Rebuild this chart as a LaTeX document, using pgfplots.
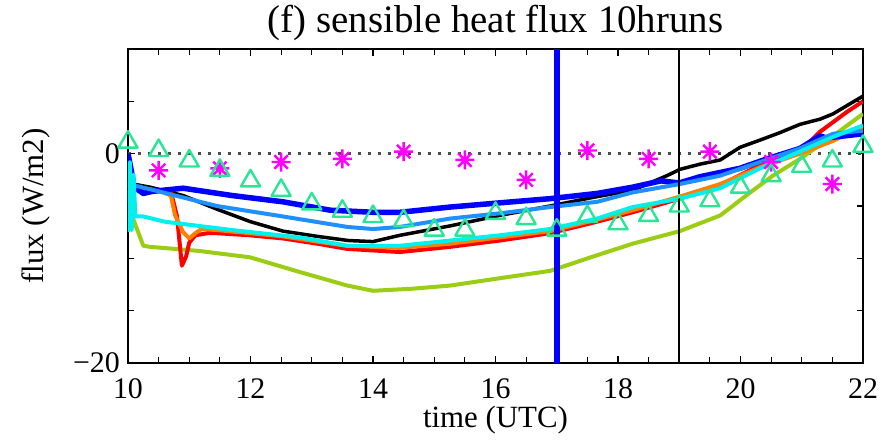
\documentclass[border=0pt]{standalone}
\usepackage{fontspec}
\setmainfont{Liberation Serif}
\usepackage{pgfplots}
\pgfplotsset{compat=1.18}

\definecolor{dblue}{RGB}{0,0,255}
\definecolor{mblue}{RGB}{30,144,255}
\definecolor{lorange}{RGB}{255,127,0}
\definecolor{lcyan}{RGB}{0,240,240}
\definecolor{ygreen}{RGB}{154,205,20}
\definecolor{tgreen}{RGB}{40,230,150}
\definecolor{pmag}{RGB}{255,0,255}

% eight-spoke asterisk
\pgfdeclareplotmark{ast8}{%
  \pgfpathmoveto{\pgfqpoint{-\pgfplotmarksize}{0pt}}\pgfpathlineto{\pgfqpoint{\pgfplotmarksize}{0pt}}%
  \pgfpathmoveto{\pgfqpoint{0pt}{-\pgfplotmarksize}}\pgfpathlineto{\pgfqpoint{0pt}{\pgfplotmarksize}}%
  \pgfpathmoveto{\pgfqpoint{-0.707\pgfplotmarksize}{-0.707\pgfplotmarksize}}\pgfpathlineto{\pgfqpoint{0.707\pgfplotmarksize}{0.707\pgfplotmarksize}}%
  \pgfpathmoveto{\pgfqpoint{-0.707\pgfplotmarksize}{0.707\pgfplotmarksize}}\pgfpathlineto{\pgfqpoint{0.707\pgfplotmarksize}{-0.707\pgfplotmarksize}}%
  \pgfusepathqstroke}

\begin{document}
\begin{tikzpicture}
\useasboundingbox (-128bp,-80bp) rectangle (768bp,363bp);
\begin{axis}[
    at={(0,0)}, anchor=south west,
    scale only axis, width=735bp, height=314bp,
    xmin=10, xmax=22, ymin=-20, ymax=10,
    xtick={10,12,...,22}, minor x tick num=3,
    xticklabels={\textrm{10},\textrm{12},\textrm{14},\textrm{16},\textrm{18},\textrm{20},\textrm{22}},
    ytick={-20,0}, yticklabels={\textrm{−20},\textrm{0}},
    minor ytick={-15,-10,-5,5},
    tick align=inside,
    major tick length=7bp, minor tick length=6bp,
    tick style={line width=1.2bp, black},
    axis line style={line width=1.8bp},
    tick label style={font=\rmfamily\fontsize{30}{32}\selectfont},
    xticklabel style={anchor=base, inner sep=0pt, yshift=-35bp},
    yticklabel style={anchor=east, inner sep=0pt, xshift=-8bp},
    title={(f) sensible heat flux 10hruns},
    title style={font=\fontsize{39}{44}\selectfont, at={(axis description cs:0.5,1.035)}, anchor=base},
    xlabel={time (UTC)},
    xlabel style={font=\fontsize{31}{34}\selectfont, at={(axis description cs:0.5,-0.205)}, anchor=base},
    ylabel={flux (W/m2)},
    ylabel style={font=\fontsize{31}{34}\selectfont, at={(axis description cs:-0.1143,0.5)}, anchor=base},
    every axis plot/.append style={line join=round},
]
% zero line
\addplot [black!70, line width=2.5bp, dash pattern=on 3bp off 7bp] coordinates {(10,0) (22,0)};

% black
\addplot [black, line width=3.5bp] coordinates {
(10.0,-2.3) (10.08,-2.9) (10.36,-3.2) (10.9,-4.0) (11.45,-5.3) (12.0,-6.5) (12.53,-7.4)
(13.09,-7.9) (13.6,-8.3) (14.0,-8.4) (14.44,-7.8) (15.26,-6.9) (16.07,-5.9) (16.89,-5.0)
(17.66,-4.1) (18.24,-3.5) (18.8,-2.1) (19.01,-1.5) (19.34,-1.0) (19.67,-0.6) (19.99,0.6)
(20.32,1.3) (20.64,2.0) (20.97,2.8) (21.3,3.3) (21.51,3.8) (21.74,4.6) (22.0,5.5)};

% green
\addplot [ygreen, line width=4bp] coordinates {
(10.0,-3.5) (10.07,-6.0) (10.25,-8.8) (10.36,-8.9) (11.17,-9.3) (11.99,-9.9) (12.8,-11.3)
(13.58,-12.6) (14.0,-13.1) (14.65,-12.9) (15.26,-12.6) (16.07,-11.9) (16.89,-11.2)
(17.66,-9.7) (18.24,-8.6) (19.01,-7.4) (19.67,-5.9) (20.16,-3.7) (20.53,-2.1)
(20.97,-0.5) (21.51,1.7) (22.0,3.8)};

% red
\addplot [red, line width=4bp] coordinates {
(10.0,-2.8) (10.1,-3.2) (10.5,-3.5) (10.7,-3.6) (10.8,-6.0) (10.88,-10.7) (10.95,-9.8)
(11.0,-8.5) (11.1,-7.8) (11.3,-7.6) (11.45,-7.6) (11.99,-7.8) (12.53,-8.1) (13.09,-8.6)
(13.58,-9.1) (14.44,-9.4) (15.26,-8.9) (16.07,-8.3) (16.89,-7.6) (17.66,-6.5) (18.24,-5.6)
(19.01,-4.3) (19.67,-3.0) (20.32,-1.1) (20.97,0.2) (21.3,2.1) (21.74,4.0) (22.0,5.0)};

% orange
\addplot [lorange, line width=4bp] coordinates {
(10.0,-3.0) (10.1,-3.4) (10.5,-3.5) (10.7,-4.0) (10.77,-5.9) (10.9,-7.5) (11.0,-8.1)
(11.1,-7.6) (11.2,-7.2) (11.45,-7.3) (11.99,-7.6) (12.53,-7.9) (13.09,-8.4) (13.58,-8.8)
(14.44,-9.0) (15.26,-8.6) (16.07,-8.0) (16.89,-7.4) (17.66,-6.3) (18.24,-5.4) (19.01,-4.1)
(19.67,-2.9) (20.32,-1.3) (20.97,0.0) (21.5,1.2) (22.0,2.6)};

% dark blue
\addplot [dblue, line width=5.5bp] coordinates {
(10.0,0.0) (10.05,-1.5) (10.1,-3.2) (10.25,-3.8) (10.4,-3.6) (10.9,-3.3) (11.7,-4.0)
(12.53,-4.6) (13.3,-5.4) (14.0,-5.6) (14.44,-5.6) (15.26,-5.1) (16.07,-4.7) (16.89,-4.3)
(17.66,-3.8) (18.24,-3.2) (18.7,-2.6) (19.0,-2.8) (19.34,-2.2) (19.99,-1.4) (20.43,-0.5)
(20.97,0.5) (21.3,1.7) (21.4,1.5) (22.0,1.9)};

% medium blue
\addplot [mblue, line width=4bp] coordinates {
(10.0,-2.5) (10.08,-3.0) (10.5,-3.6) (11.45,-5.0) (12.53,-6.0) (13.58,-7.0) (14.0,-7.2)
(14.44,-7.0) (15.26,-6.2) (16.07,-5.7) (16.89,-5.1) (17.66,-4.6) (18.24,-3.7) (19.01,-2.9)
(19.67,-2.1) (20.32,-0.8) (20.97,0.5) (21.51,1.9) (22.0,2.2)};

% cyan
\addplot [lcyan, line width=4bp] coordinates {
(10.0,-7.5) (10.03,-0.8) (10.06,-7.3) (10.09,-2.0) (10.12,-6.0) (10.25,-6.0) (10.6,-6.5)
(11.7,-7.3) (12.8,-8.0) (13.58,-8.8) (14.44,-8.8) (15.26,-8.3) (16.07,-7.8) (16.89,-7.2)
(17.66,-6.2) (18.24,-5.1) (19.01,-4.3) (19.67,-3.3) (20.32,-1.4) (20.97,0.2) (21.51,1.6)
(22.0,2.7)};

% observations: asterisks
\addplot [only marks, pmag, mark=ast8, mark size=9.5bp, line width=2.4bp] coordinates {
(10.5,-1.6) (11.5,-1.4) (12.5,-0.8) (13.5,-0.5) (14.5,0.2) (15.5,-0.6)
(16.5,-2.5) (17.5,0.3) (18.5,-0.5) (19.5,0.2) (20.5,-0.8) (21.5,-2.9)};

% observations: triangles
\addplot [only marks, tgreen, mark=triangle, mark size=11bp, mark options={line width=2.4bp}] coordinates {
(10,1.1) (10.5,0.3) (11,-0.7) (11.5,-1.6) (12,-2.6) (12.5,-3.5) (13,-4.8) (13.5,-5.5)
(14,-6.0) (14.5,-6.4) (15,-7.3) (15.5,-7.3) (16,-5.7) (16.5,-6.2) (17,-7.3) (17.5,-6.0)
(18,-6.7) (18.5,-5.9) (19,-5.0) (19.5,-4.5) (20,-3.2) (20.5,-2.1) (21,-1.2) (21.5,-0.7)
(22,0.7)};

% vertical markers
\addplot [dblue, line width=6bp] coordinates {(17,-20) (17,10)};
\addplot [black, line width=2bp] coordinates {(19,-20) (19,10)};
\end{axis}
\end{tikzpicture}
\end{document}
